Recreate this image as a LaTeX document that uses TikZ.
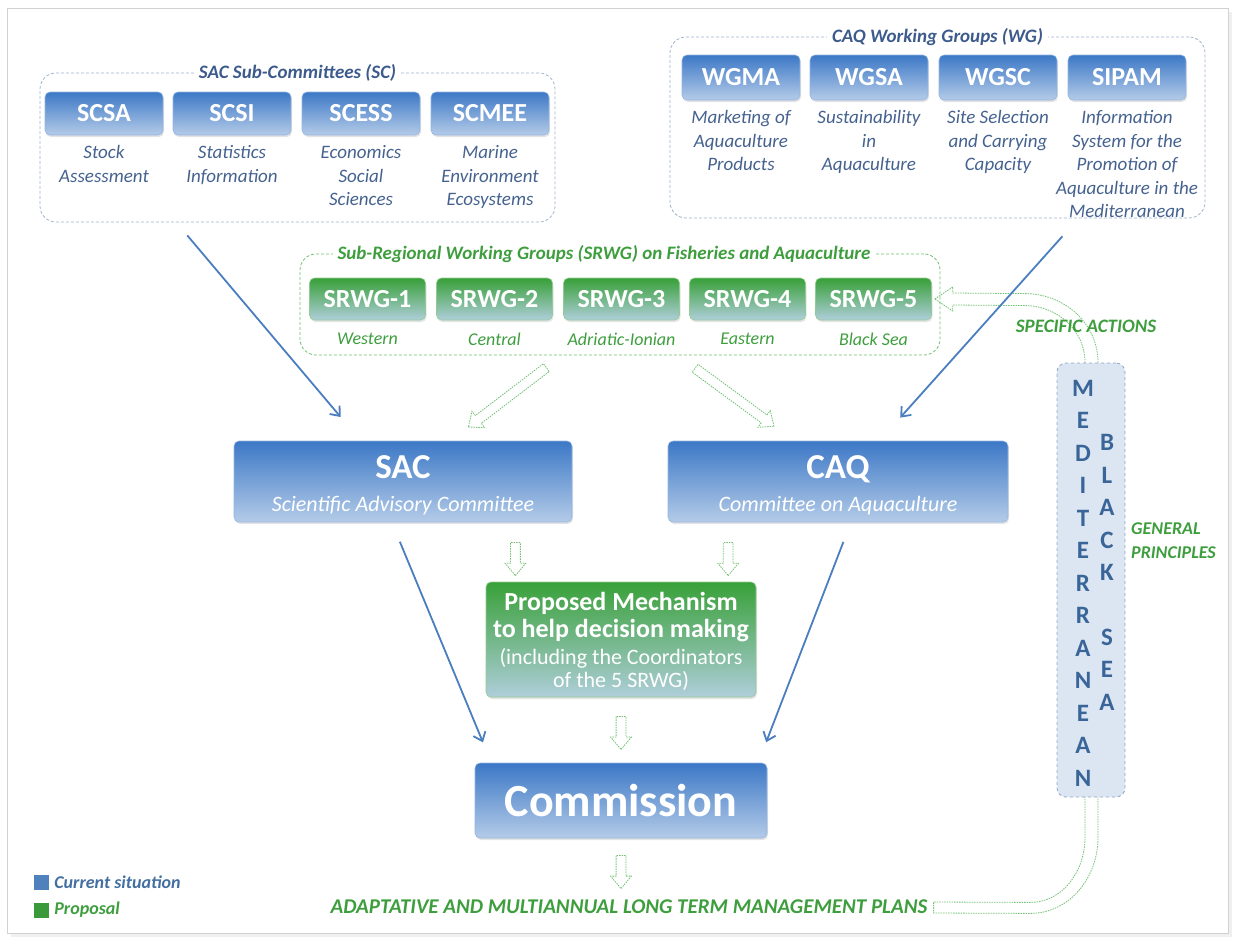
\documentclass[tikz,border=0pt]{standalone}
\usepackage{fontspec}
\setmainfont{Carlito}
\usepackage{xcolor}
\usetikzlibrary{positioning,arrows.meta,calc,shapes.arrows,shadows}
\pgfdeclarelayer{background}
\pgfsetlayers{background,main}
\definecolor{bluetop}{HTML}{3C78C6}
\definecolor{bluebot}{HTML}{B4CBE8}
\definecolor{greentop}{HTML}{38A038}
\definecolor{greenbot}{HTML}{AFCEDA}
\definecolor{descblue}{HTML}{45628F}
\definecolor{titleblue}{HTML}{3C5B8C}
\definecolor{leaf}{HTML}{3E9E3E}
\definecolor{grpline}{HTML}{A0B3CC}
\definecolor{dotgreen}{HTML}{72C172}
\definecolor{linkblue}{HTML}{4A7EBE}
\definecolor{barfill}{HTML}{DCE6F2}
\definecolor{barline}{HTML}{8FA4C1}
\definecolor{letterblue}{HTML}{3A6598}
\definecolor{legblue}{HTML}{4F81BD}
\definecolor{leggreen}{HTML}{3A9A3A}
\newcommand{\fsz}[2]{\fontsize{#1}{#2}\selectfont}

\begin{document}
\begin{tikzpicture}[x=1pt,y=-1pt,
  box/.style={rounded corners=5pt,draw=bluetop!55!white,line width=0.6pt,top color=bluetop,bottom color=bluebot,
    text=white,font=\fsz{26}{28}\bfseries,inner sep=0pt,drop shadow={opacity=0.22,shadow xshift=1pt,shadow yshift=-2pt}},
  gbox/.style={box,draw=greentop!55!white,top color=greentop,bottom color=greenbot},
  sub/.style={box,minimum width=118pt,minimum height=43pt},
  wg/.style={box,minimum width=118pt,minimum height=45pt},
  srwg/.style={gbox,minimum width=116pt,minimum height=42pt},
  grp/.style={draw=grpline,dash pattern=on 3pt off 2pt,rounded corners=16pt,line width=0.8pt},
  grpttl/.style={fill=white,inner xsep=5pt,inner ysep=1pt,text=titleblue,font=\fsz{19}{22}\bfseries\itshape},
  desc/.style={align=center,text=descblue,font=\fsz{19}{23.5}\itshape,inner sep=0pt},
  rdesc/.style={text=leaf,font=\fsz{18}{20}\itshape,inner sep=0pt},
  lbl/.style={text=leaf,font=\fsz{19}{24}\bfseries\itshape,inner sep=0pt},
  barltr/.style={align=center,text=letterblue,font=\fsz{25}{32.5}\bfseries,inner sep=0pt},
  link/.style={draw=linkblue,line width=1.8pt,-{Straight Barb[length=8pt,width=13pt]}},
  hollow/.style={single arrow,draw=dotgreen,dash pattern=on 1.5pt off 1pt,line width=0.8pt,inner xsep=0pt,inner ysep=4.5pt,
    single arrow head extend=5.5pt,single arrow tip angle=80,minimum height=33pt,sloped,allow upside down},
  band/.style={draw=dotgreen,dash pattern=on 1.5pt off 1pt,line width=0.8pt}]
  \useasboundingbox (0,0) rectangle (1234,938);
  \draw[gray!12,line width=3pt] (11,935.5) -- (1230.5,935.5) -- (1230.5,12);
  \draw[gray!35,line width=1pt] (7,8) rectangle (1228,933);

  \node[grp,minimum width=515pt,minimum height=149pt] (scgrp) at (297.5,147.5) {};
  \node[grpttl] (scttl) at (scgrp.north) {SAC Sub-Committees (SC)};
  \node[sub] (scsa) at (104,113.5) {SCSA};
  \node[sub] (scsi) at (232,113.5) {SCSI};
  \node[sub] (scess) at (361,113.5) {SCESS};
  \node[sub] (scmee) at (490,113.5) {SCMEE};
  \node[desc,below=10pt of scsa] (dscsa) {Stock\\Assessment};
  \node[desc,below=10pt of scsi] (dscsi) {Statistics\\Information};
  \node[desc,below=10pt of scess] (dscess) {Economics\\Social\\Sciences};
  \node[desc,below=10pt of scmee] (dscmee) {Marine\\Environment\\Ecosystems};

  \node[grp,minimum width=535pt,minimum height=181pt] (wggrp) at (937.5,127.5) {};
  \node[grpttl] (wgttl) at (wggrp.north) {CAQ Working Groups (WG)};
  \node[wg] (wgma) at (741,77.5) {WGMA};
  \node[wg] (wgsa) at (869,77.5) {WGSA};
  \node[wg] (wgsc) at (998,77.5) {WGSC};
  \node[wg] (sipam) at (1127,77.5) {SIPAM};
  \node[desc,below=10pt of wgma] (dwgma) {Marketing of\\Aquaculture\\Products};
  \node[desc,below=10pt of wgsa] (dwgsa) {Sustainability\\in\\Aquaculture};
  \node[desc,below=10pt of wgsc] (dwgsc) {Site Selection\\and Carrying\\Capacity};
  \node[desc,below=10pt of sipam] (dsipam) {Information\\System for the\\Promotion of\\Aquaculture in the\\Mediterranean};

  \node[grp,draw=dotgreen,minimum width=640pt,minimum height=101pt] (srgrp) at (620,304.5) {};
  \node[grpttl,text=leaf,xshift=-16pt] (srttl) at (srgrp.north) {Sub-Regional Working Groups (SRWG) on Fisheries and Aquaculture};
  \node[srwg] (srwg1) at (367.5,299) {SRWG-1};
  \node[srwg] (srwg2) at (494.5,299) {SRWG-2};
  \node[srwg] (srwg3) at (621.5,299) {SRWG-3};
  \node[srwg] (srwg4) at (747.5,299) {SRWG-4};
  \node[srwg] (srwg5) at (873.5,299) {SRWG-5};
  \node[rdesc,below=12pt of srwg1] (dsr1) {Western};
  \node[rdesc,below=12pt of srwg2] (dsr2) {Central};
  \node[rdesc,below=12pt of srwg3] (dsr3) {Adriatic-Ionian};
  \node[rdesc,below=12pt of srwg4] (dsr4) {Eastern};
  \node[rdesc,below=12pt of srwg5] (dsr5) {Black Sea};

  \node[box,minimum width=338pt,minimum height=81pt,align=center,font=\fsz{22}{33}] (sac) at (403,481.5)
    {{\fsz{35}{33}\bfseries\rule{0pt}{31pt}SAC}\\{\itshape Scientific Advisory Committee}};
  \node[box,minimum width=340pt,minimum height=81pt,align=center,font=\fsz{22}{33}] (caq) at (838,481.5)
    {{\fsz{35}{33}\bfseries\rule{0pt}{31pt}CAQ}\\{\itshape Committee on Aquaculture}};
  \node[gbox,minimum width=270pt,minimum height=115pt,align=center,font=\fsz{22}{23}] (prop) at (621,639.5)
    {{\fsz{26}{27}\bfseries\rule{0pt}{22pt}Proposed Mechanism}\\[4pt]{\fsz{26}{27}\bfseries to help decision making}\\[4pt](including the Coordinators\\of the 5 SRWG)};
  \node[box,minimum width=292pt,minimum height=75pt,font=\fsz{46}{48}\bfseries] (comm) at (621,800.5) {Commission};
  \node[lbl,font=\fsz{21}{24}\bfseries\itshape] (plans) at (629,907) {ADAPTATIVE AND MULTIANNUAL LONG TERM MANAGEMENT PLANS};

  \draw[link,shorten <=17pt,shorten >=31pt] ($(scgrp.south west)!0.265!(scgrp.south east)$) -- ($(sac.north west)!0.375!(sac.north east)$);
  \draw[link,shorten <=24pt,shorten >=31pt] ($(wggrp.south west)!0.763!(wggrp.south east)$) -- ($(caq.north west)!0.622!(caq.north east)$);
  \draw[link,shorten <=21pt,shorten >=22pt] ($(sac.south west)!0.467!(sac.south east)$) -- ($(comm.north west)!0.057!(comm.north east)$);
  \draw[link,shorten <=21pt,shorten >=22pt] ($(caq.south west)!0.538!(caq.south east)$) -- ($(comm.north west)!0.969!(comm.north east)$);

  \path ($(srgrp.south west)!0.41!(srgrp.south east)$) -- node[hollow,minimum height=98pt,pos=0.47] {} ($(sac.north west)!0.64!(sac.north east)$);
  \path ($(srgrp.south west)!0.59!(srgrp.south east)$) -- node[hollow,minimum height=98pt,pos=0.47] {} ($(caq.north west)!0.37!(caq.north east)$);
  \coordinate (v1) at ($(prop.north west)!0.11!(prop.north east)$);
  \coordinate (v2) at ($(prop.north west)!0.896!(prop.north east)$);
  \path (sac.south -| v1) -- node[hollow,pos=0.57] {} (v1);
  \path (caq.south -| v2) -- node[hollow,pos=0.57] {} (v2);
  \path (prop.south) -- node[hollow] {} (comm.north);
  \path (comm.south) -- node[hollow] {} (comm.south |- plans.north);

  \node[draw=barline,dashed,fill=barfill,rounded corners=9pt,minimum width=68pt,minimum height=434pt,line width=0.8pt] (bar) at (1091,580) {};
  \node[barltr] (med) at (1083,583) {M\\E\\D\\I\\T\\E\\R\\R\\A\\N\\E\\A\\N};
  \node[barltr] (blk) at (1107,572.5) {B\\L\\A\\C\\K\\[32pt]S\\E\\A};
  \coordinate (tip) at ($(srwg5.east)+(3,0)$);
  \begin{pgfonlayer}{background}
  \draw[band] (tip) -- ++(18,-12) -- ++(0,6) -- ($(bar.north)+(-66,-69)$) to[out=0,in=90] ($(bar.north)+(7,0)$)
    -- ($(bar.south)+(7,40)$) to[out=-90,in=0] ($(bar.south)+(-61,116)$) -- ($(plans.east)+(6,6)$) -- ++(0,-11)
    -- ($(bar.south)+(-61,105)$) to[out=0,in=-90] ($(bar.south)+(-6,40)$) -- ($(bar.north)+(-6,0)$)
    to[out=90,in=0] ($(bar.north)+(-66,-57)$) -- ($(tip)+(18,6)$) -- ++(0,6) -- cycle;
  \end{pgfonlayer}
  \node[lbl] (spec) at (1086,326) {SPECIFIC ACTIONS};
  \node[lbl,align=left,anchor=west,font=\fsz{18}{24}\bfseries\itshape] (gen) at (1131,541) {GENERAL\\PRINCIPLES};

  \node[fill=legblue,minimum size=15pt,inner sep=0pt] (kcur) at (41.5,882.5) {};
  \node[lbl,font=\fsz{18}{20}\bfseries\itshape,text=legblue!85!black,right=5pt of kcur] (lcur) {Current situation};
  \node[fill=leggreen,minimum size=15pt,inner sep=0pt] (kprop) at (41.5,910) {};
  \node[lbl,font=\fsz{18}{20}\bfseries\itshape,right=5pt of kprop] (lprop) {Proposal};
\end{tikzpicture}
\end{document}
